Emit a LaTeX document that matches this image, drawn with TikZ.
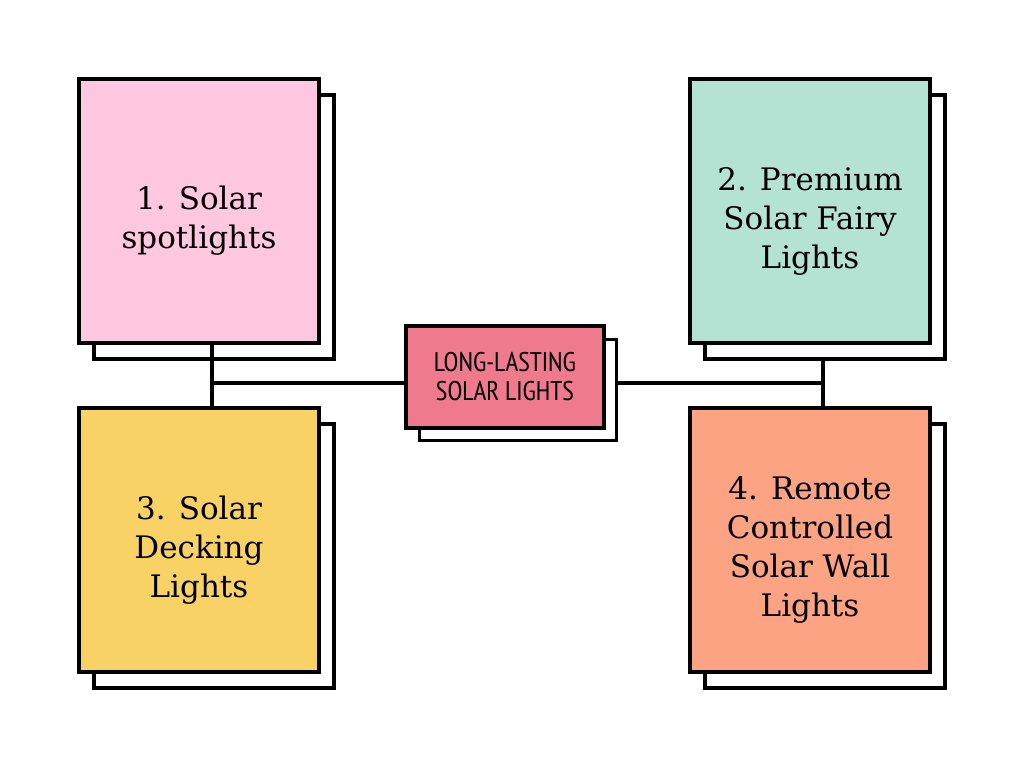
\documentclass[tikz,border=0pt]{standalone}
\usepackage{fontspec}
\setmainfont{DejaVu Serif}
\newfontfamily\capfont{PT Sans Narrow}
\begin{document}
\begin{tikzpicture}[x=1pt,y=-1pt,line width=3.5pt,
  card/.style={draw=black,minimum width=240pt,minimum height=264pt,inner sep=0pt},
  txt/.style={align=center,font=\fontsize{31}{39}\selectfont,inner sep=0pt},
  shadow/.style={draw=black,fill=white,minimum width=240pt,minimum height=264pt}]
\useasboundingbox (0,0) rectangle (1024,768);
\definecolor{cpink}{HTML}{FFC8E0}\definecolor{cgreen}{HTML}{B4E3D3}
\definecolor{cyel}{HTML}{F9D265}\definecolor{cor}{HTML}{FCA383}\definecolor{cctr}{HTML}{EF7A8E}
\node[shadow] at (214,227) {};
\node[card,fill=cpink] (a) at (199,211) {};
\node[txt] (at) at (199,221) {1. Solar\\spotlights};
\node[shadow] at (825,227) {};
\node[card,fill=cgreen] (b) at (810,211) {};
\node[txt] (bt) at (810,221) {2. Premium\\Solar Fairy\\Lights};
\node[shadow] at (214,556) {};
\node[card,fill=cyel] (c) at (199,540) {};
\node[txt] (ct) at (199,550) {3. Solar\\Decking\\Lights};
\node[shadow] at (825,556) {};
\node[card,fill=cor] (d) at (810,540) {};
\node[txt] (dt) at (810,550) {4. Remote\\Controlled\\Solar Wall\\Lights};
\node[draw,fill=white,minimum width=197pt,minimum height=101pt] (ms) at (518,390) {};
\node[draw,fill=cctr,minimum width=198pt,minimum height=102pt,align=center,font=\capfont\fontsize{27}{29}\selectfont] (m) at (505,377) {LONG-LASTING\\SOLAR LIGHTS};
\coordinate (lj) at (212,383);
\coordinate (rj) at (823,383);
\draw (a.south -| lj) -- (c.north -| lj);
\draw (lj) -- (m.west |- lj);
\draw (ms.east |- rj) -- (rj);
\draw (823,359) -- (d.north -| rj);
\end{tikzpicture}
\end{document}
